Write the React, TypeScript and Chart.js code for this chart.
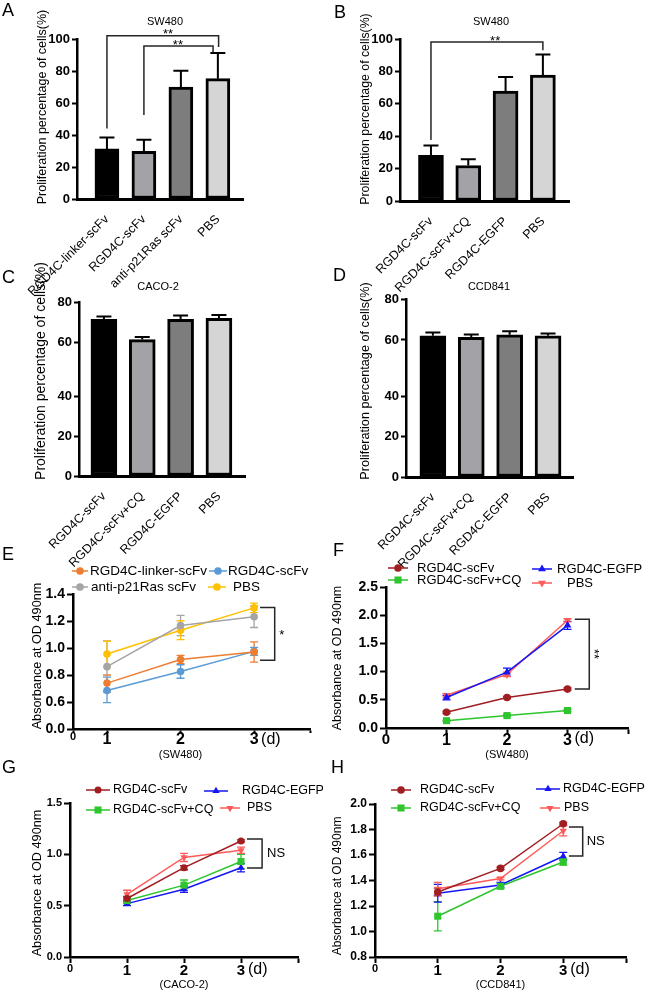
import React, { useEffect, useRef } from 'react';
import { Chart, registerables, LinearScale } from 'chart.js';

Chart.register(...registerables);

const FONT = '"Liberation Sans", Arial, Helvetica, sans-serif';
Chart.defaults.font.family = FONT;
Chart.defaults.color = '#000';

// ---------------- data ----------------
const A_CATEGORIES = ['RGD4C-linker-scFv', 'RGD4C-scFv', 'anti-p21Ras scFv', 'PBS'];
const A_VALUES = [31.3, 29.8, 70, 75.2];
const A_ERRORS = [7.2, 7.3, 10.2, 16];

const BCD_CATEGORIES = ['RGD4C-scFv', 'RGD4C-scFv+CQ', 'RGD4C-EGFP', 'PBS'];
const B_VALUES = [28.2, 21.9, 67.8, 77.7];
const B_ERRORS = [6, 3.9, 8.7, 12.8];
const C_VALUES = [71.3, 61.2, 71.3, 71.8];
const C_ERRORS = [1.5, 1.3, 1.9, 1.7];
const D_VALUES = [62.0, 61.3, 62.5, 62.0];
const D_ERRORS = [1.6, 1.3, 1.8, 1.1];

const AB_Y_TICKS = [0, 20, 40, 60, 80, 100];
const CD_Y_TICKS = [0, 20, 40, 60, 80];

const DAYS = [1, 2, 3];
const X_TICKS = [0, 1, 2, 3];

const E_LABELS = ['RGD4C-linker-scFv', 'RGD4C-scFv', 'anti-p21Ras scFv', 'PBS'];
const E_LINKER = [0.74, 0.915, 0.97];
const E_LINKER_ERR = [0.06, 0.03, 0.075];
const E_SCFV = [0.685, 0.826, 0.975];
const E_SCFV_ERR = [0.1, 0.05, 0.03];
const E_ANTI = [0.862, 1.166, 1.232];
const E_ANTI_ERR = [0.19, 0.075, 0.08];
const E_PBS = [0.955, 1.132, 1.297];
const E_PBS_ERR = [0.095, 0.07, 0.035];
const E_Y_TICKS = [0, 0.6, 0.8, 1.0, 1.2, 1.4];

const FGH_LABELS = ['RGD4C-scFv', 'RGD4C-scFv+CQ', 'RGD4C-EGFP', 'PBS'];
const F_SCFV = [0.28, 0.54, 0.69];
const F_SCFV_ERR = [0.02, 0.02, 0.02];
const F_CQ = [0.13, 0.22, 0.31];
const F_CQ_ERR = [0.01, 0.02, 0.02];
const F_EGFP = [0.54, 0.99, 1.82];
const F_EGFP_ERR = [0.04, 0.07, 0.07];
const F_PBS = [0.58, 0.95, 1.91];
const F_PBS_ERR = [0.03, 0.04, 0.03];
const F_Y_TICKS = [0, 0.5, 1.0, 1.5, 2.0, 2.5];

const G_SCFV = [0.57, 0.87, 1.13];
const G_SCFV_ERR = [0.02, 0.02, 0.01];
const G_CQ = [0.55, 0.70, 0.93];
const G_CQ_ERR = [0.03, 0.05, 0.07];
const G_EGFP = [0.52, 0.66, 0.87];
const G_EGFP_ERR = [0.02, 0.03, 0.04];
const G_PBS = [0.61, 0.97, 1.04];
const G_PBS_ERR = [0.04, 0.04, 0.03];
const G_Y_TICKS = [0, 0.5, 1.0, 1.5];

const H_SCFV = [1.31, 1.495, 1.845];
const H_SCFV_ERR = [0.03, 0.01, 0.01];
const H_CQ = [1.12, 1.355, 1.545];
const H_CQ_ERR = [0.115, 0.02, 0.025];
const H_EGFP = [1.30, 1.365, 1.59];
const H_EGFP_ERR = [0.07, 0.02, 0.03];
const H_PBS = [1.335, 1.415, 1.79];
const H_PBS_ERR = [0.05, 0.01, 0.04];
const H_Y_TICKS = [0.8, 1.0, 1.2, 1.4, 1.6, 1.8, 2.0];

// ---------------- styles ----------------
const BAR_FILLS = ['#000000', '#a2a2a7', '#7d7d7d', '#d5d5d5'];
const E_COLORS = ['#ED7D31', '#5B9BD5', '#A5A5A5', '#FFC000'];
const FGH_COLORS = ['#A11D21', '#2EC52E', '#1515F5', '#FF5B5B'];
const FGH_STYLES = ['circle', 'rect', 'triangle', 'triangle'];
const FGH_ROT = [0, 0, 0, 180];
const YT_BAR = 'Proliferation percentage of cells(%)';
const YT_LINE = 'Absorbance at OD 490nm';

// ---------------- piecewise scale ----------------
class PiecewiseScale extends LinearScale {
  static id = 'piecewise';
  _dec(value: number) {
    const bv = (this as any).options.bv as number[];
    const bf = (this as any).options.bf as number[];
    let i = 0;
    while (i < bv.length - 2 && value > bv[i + 1]) i++;
    const t = (value - bv[i]) / (bv[i + 1] - bv[i]);
    return bf[i] + t * (bf[i + 1] - bf[i]);
  }
  getPixelForValue(value: any) {
    if (value === null || value === undefined || isNaN(value)) return NaN;
    return (this as any).getPixelForDecimal(this._dec(+value));
  }
  getValueForPixel(pixel: number) {
    const bv = (this as any).options.bv as number[];
    const bf = (this as any).options.bf as number[];
    const d = (this as any).getDecimalForPixel(pixel);
    let i = 0;
    while (i < bf.length - 2 && d > bf[i + 1]) i++;
    return bv[i] + ((d - bf[i]) / (bf[i + 1] - bf[i])) * (bv[i + 1] - bv[i]);
  }
}
Chart.register(PiecewiseScale as any);

// ---------------- drawing helpers ----------------
function fnt(size: number, weight = 'normal') {
  return `${weight} ${size}px ${FONT}`;
}

function drawMarker(ctx: CanvasRenderingContext2D, style: string, rot: number, x: number, y: number, r: number, color: string) {
  ctx.save();
  ctx.fillStyle = color;
  ctx.beginPath();
  if (style === 'rect') {
    const s = r * Math.SQRT1_2;
    ctx.rect(x - s, y - s, 2 * s, 2 * s);
  } else if (style === 'triangle') {
    let a = (rot * Math.PI) / 180;
    for (let k = 0; k < 3; k++) {
      const px = x + Math.sin(a) * r;
      const py = y - Math.cos(a) * r;
      if (k === 0) ctx.moveTo(px, py);
      else ctx.lineTo(px, py);
      a += (2 * Math.PI) / 3;
    }
    ctx.closePath();
  } else {
    ctx.arc(x, y, r, 0, Math.PI * 2);
  }
  ctx.fill();
  ctx.restore();
}

function drawText(ctx: CanvasRenderingContext2D, t: any, x: number, y: number) {
  ctx.save();
  ctx.translate(x, y);
  if (t.rot) ctx.rotate((t.rot * Math.PI) / 180);
  ctx.font = fnt(t.size, t.weight || 'normal');
  ctx.fillStyle = t.color || '#000';
  ctx.textAlign = t.align || 'center';
  ctx.textBaseline = 'middle';
  ctx.fillText(t.t, 0, 0);
  ctx.restore();
}

function makeDeco(deco: any) {
  return {
    id: 'deco',
    beforeDatasetsDraw(chart: any) {
      const ctx = chart.ctx;
      const xs = chart.scales.x;
      const ys = chart.scales.y;
      chart.data.datasets.forEach((ds: any) => {
        if (!ds.errs) return;
        ctx.save();
        ctx.strokeStyle = ds.errColor || ds.borderColor;
        ctx.lineWidth = ds.errWidth || 1.2;
        ds.data.forEach((p: any, i: number) => {
          const e = ds.errs[i];
          if (!e) return;
          const x = xs.getPixelForValue(p.x);
          const yt = ys.getPixelForValue(p.y + e);
          const yb = ds.errMode === 'up' ? ys.getPixelForValue(p.y) : ys.getPixelForValue(p.y - e);
          ctx.beginPath();
          ctx.moveTo(x, yb);
          ctx.lineTo(x, yt);
          ctx.moveTo(x - ds.capW, yt);
          ctx.lineTo(x + ds.capW, yt);
          if (ds.errMode !== 'up') {
            ctx.moveTo(x - ds.capW, yb);
            ctx.lineTo(x + ds.capW, yb);
          }
          ctx.stroke();
        });
        ctx.restore();
      });
    },
    afterDraw(chart: any) {
      const ctx = chart.ctx;
      const xs = chart.scales.x;
      const ys = chart.scales.y;
      (deco.brackets || []).forEach((b: any) => {
        ctx.save();
        ctx.strokeStyle = '#262626';
        ctx.lineWidth = 1.5;
        ctx.beginPath();
        b.pts.forEach((p: number[], i: number) => {
          const px = xs.getPixelForValue(p[0]);
          const py = ys.getPixelForValue(p[1]);
          if (i === 0) ctx.moveTo(px, py);
          else ctx.lineTo(px, py);
        });
        ctx.stroke();
        ctx.restore();
        if (b.label) {
          const px = xs.getPixelForValue(b.lx) + (b.dx || 0);
          const py = ys.getPixelForValue(b.ly) + (b.dy || 0);
          drawText(ctx, { t: b.label, size: b.size || 13, rot: b.rot, align: b.align }, px, py);
        }
      });
      (deco.texts || []).forEach((t: any) => {
        const x = t.xv !== undefined ? xs.getPixelForValue(t.xv) + (t.x || 0) : t.x;
        drawText(ctx, t, x, t.y);
      });
      const lg = deco.legend;
      if (lg) {
        lg.items.forEach((it: any, i: number) => {
          const ds = chart.data.datasets[i];
          ctx.save();
          ctx.strokeStyle = ds.borderColor;
          ctx.lineWidth = 1.5;
          ctx.beginPath();
          ctx.moveTo(it.cx - it.hl, it.y);
          ctx.lineTo(it.cx + it.hl, it.y);
          ctx.stroke();
          ctx.restore();
          drawMarker(ctx, ds.pointStyle, ds.pointRotation || 0, it.cx, it.y, ds.pointRadius, ds.borderColor);
          drawText(ctx, { t: ds.label, size: lg.size, align: 'left' }, it.tx, it.y);
        });
      }
    },
  };
}

// ---------------- chart builders ----------------
function barChart(p: any) {
  const { area, W, H } = p;
  return {
    type: 'bar',
    data: {
      datasets: [
        {
          data: p.cats.map((_: string, i: number) => ({ x: i + 1, y: p.values[i] })),
          backgroundColor: BAR_FILLS,
          borderColor: '#000',
          borderWidth: 3,
          borderSkipped: false,
          barThickness: p.barW,
          errs: p.errors,
          errMode: 'up',
          errColor: '#000',
          errWidth: 2,
          capW: 7.5,
        },
      ],
    },
    options: {
      responsive: false,
      animation: false,
      events: [],
      layout: { padding: { left: 0, top: area.t, right: W - area.r, bottom: 0 } },
      plugins: { legend: { display: false }, tooltip: { enabled: false } },
      scales: {
        x: {
          type: 'piecewise',
          bv: [p.xmin, p.xmax],
          bf: [0, 1],
          min: p.xmin,
          max: p.xmax,
          offset: false,
          afterBuildTicks: (s: any) => {
            s.ticks = p.cats.map((_: string, i: number) => ({ value: i + 1 }));
          },
          afterFit: (s: any) => {
            s.height = H - area.b;
          },
          grid: { display: false, offset: false },
          border: { display: true, color: '#000', width: 3 },
          ticks: {
            autoSkip: false,
            minRotation: 45,
            maxRotation: 45,
            padding: 5,
            color: '#000',
            font: { size: 12.5 },
            callback: (v: number) => p.cats[Math.round(v) - 1],
          },
        },
        y: {
          type: 'piecewise',
          bv: p.ybv,
          bf: p.ybf,
          min: p.ybv[0],
          max: p.ybv[p.ybv.length - 1],
          afterBuildTicks: (s: any) => {
            s.ticks = p.yticks.map((v: number) => ({ value: v }));
          },
          afterFit: (s: any) => {
            s.width = area.l;
          },
          grid: { display: true, drawOnChartArea: false, drawTicks: true, tickLength: 5, tickWidth: 2, tickColor: '#000' },
          border: { display: true, color: '#000', width: 2.5 },
          ticks: { autoSkip: false, padding: 2, color: '#000', font: { size: 13, weight: 'bold' }, callback: (v: number) => String(v) },
        },
      },
    },
    plugins: [makeDeco(p.deco)],
  };
}

function lineChart(p: any) {
  const { area, W, H } = p;
  const xEnd = p.xbv[p.xbv.length - 1];
  return {
    type: 'line',
    data: {
      datasets: p.series.map((s: any) => ({
        label: s.label,
        data: DAYS.map((d, i) => ({ x: d, y: s.values[i] })),
        borderColor: s.color,
        backgroundColor: s.color,
        pointBackgroundColor: s.color,
        pointBorderColor: s.color,
        pointBorderWidth: 0,
        borderWidth: 1.5,
        tension: 0,
        fill: false,
        pointStyle: s.style,
        pointRotation: s.rot || 0,
        pointRadius: s.radius,
        errs: s.errs,
        errMode: 'both',
        errWidth: 1.3,
        capW: 4,
      })),
    },
    options: {
      responsive: false,
      animation: false,
      events: [],
      layout: { padding: { left: 0, top: area.t, right: W - area.r, bottom: 0 } },
      plugins: { legend: { display: false }, tooltip: { enabled: false } },
      scales: {
        x: {
          type: 'piecewise',
          bv: p.xbv,
          bf: p.xbf,
          min: p.xbv[0],
          max: xEnd,
          afterBuildTicks: (s: any) => {
            s.ticks = [...X_TICKS, xEnd].map((v: number) => ({ value: v }));
          },
          afterFit: (s: any) => {
            s.height = H - area.b;
          },
          grid: { display: true, drawOnChartArea: false, drawTicks: true, tickLength: p.xtickLen, tickWidth: 2, tickColor: '#000' },
          border: { display: true, color: '#000', width: 2.5 },
          ticks: {
            autoSkip: false,
            maxRotation: 0,
            minRotation: 0,
            padding: p.xpad,
            color: '#000',
            font: (c: any) =>
              c.tick && c.tick.value === 0
                ? { size: p.zeroSize, weight: 'bold' }
                : { size: p.xtickSize, weight: 'bold' },
            callback: (v: number) => (v === xEnd ? '' : String(v)),
          },
        },
        y: {
          type: 'piecewise',
          bv: p.ybv,
          bf: p.ybf,
          min: p.ybv[0],
          max: p.ybv[p.ybv.length - 1],
          afterBuildTicks: (s: any) => {
            s.ticks = p.yticks.map((v: number) => ({ value: v }));
          },
          afterFit: (s: any) => {
            s.width = area.l;
          },
          grid: { display: true, drawOnChartArea: false, drawTicks: true, tickLength: 6, tickWidth: 2, tickColor: '#000' },
          border: { display: true, color: '#000', width: 2.5 },
          ticks: {
            autoSkip: false,
            padding: 2,
            color: '#000',
            font: { size: p.ytickSize, weight: 'bold' },
            callback: (v: number) => v.toFixed(1),
          },
        },
      },
    },
    plugins: [makeDeco(p.deco)],
  };
}

function fghSeries(vals: number[][], errs: number[][], radii: number[]) {
  return FGH_LABELS.map((label, i) => ({
    label,
    color: FGH_COLORS[i],
    style: FGH_STYLES[i],
    rot: FGH_ROT[i],
    radius: radii[i],
    values: vals[i],
    errs: errs[i],
  }));
}

// ---------------- panels ----------------
const PANELS = [
  {
    key: 'A', left: 0, top: 0, w: 323, h: 300,
    build: () =>
      barChart({
        W: 323, H: 300, area: { l: 77, t: 39, r: 243, b: 199 },
        cats: A_CATEGORIES, values: A_VALUES, errors: A_ERRORS, barW: 24,
        xmin: 0.19, xmax: 4.68, ybv: [0, 100], ybf: [0, 1], yticks: AB_Y_TICKS,
        deco: {
          brackets: [
            { pts: [[1, 44], [1, 102], [4.02, 102], [4.02, 95]], label: '**', lx: 2.65, ly: 102, dy: -1 },
            { pts: [[2, 52.5], [2, 95.6], [3.87, 95.6], [3.87, 91.5]], label: '**', lx: 2.92, ly: 95.6, dy: -1 },
          ],
          texts: [
            { t: 'SW480', x: 165, y: 22, size: 11 },
            { t: YT_BAR, x: 43, y: 107, size: 12.5, rot: -90 },
          ],
        },
      }),
  },
  {
    key: 'B', left: 323, top: 0, w: 323, h: 300,
    build: () =>
      barChart({
        W: 323, H: 300, area: { l: 77, t: 39, r: 246, b: 201 },
        cats: BCD_CATEGORIES, values: B_VALUES, errors: B_ERRORS, barW: 25,
        xmin: 0.17, xmax: 4.7, ybv: [0, 100], ybf: [0, 1], yticks: AB_Y_TICKS,
        deco: {
          brackets: [{ pts: [[1, 37.6], [1, 98.1], [4, 98.1], [4, 93]], label: '**', lx: 2.72, ly: 98.1, dy: -1 }],
          texts: [
            { t: 'SW480', x: 168, y: 22, size: 11 },
            { t: YT_BAR, x: 43, y: 109, size: 12.3, rot: -90 },
          ],
        },
      }),
  },
  {
    key: 'C', left: 0, top: 250, w: 323, h: 320,
    build: () =>
      barChart({
        W: 323, H: 320, area: { l: 79, t: 52, r: 245, b: 226 },
        cats: BCD_CATEGORIES, values: C_VALUES, errors: C_ERRORS, barW: 26,
        xmin: 0.35, xmax: 4.68, ybv: [0, 40, 60, 80], ybf: [0, 0.455, 0.77, 1], yticks: CD_Y_TICKS,
        deco: {
          texts: [
            { t: 'CACO-2', x: 158, y: 37, size: 11 },
            { t: YT_BAR, x: 41, y: 121, size: 14, rot: -90 },
          ],
        },
      }),
  },
  {
    key: 'D', left: 323, top: 250, w: 323, h: 320,
    build: () =>
      barChart({
        W: 323, H: 320, area: { l: 83, t: 49, r: 250, b: 227 },
        cats: BCD_CATEGORIES, values: D_VALUES, errors: D_ERRORS, barW: 26,
        xmin: 0.3, xmax: 4.65, ybv: [0, 40, 60, 80], ybf: [0, 0.455, 0.77, 1], yticks: CD_Y_TICKS,
        deco: {
          texts: [
            { t: 'CCD841', x: 166, y: 37, size: 11 },
            { t: YT_BAR, x: 42, y: 131, size: 12.7, rot: -90 },
          ],
        },
      }),
  },
  {
    key: 'E', left: 0, top: 500, w: 323, h: 265,
    build: () =>
      lineChart({
        W: 323, H: 265, area: { l: 73, t: 94, r: 310, b: 229 },
        xbv: [0, 1, 3.76], xbf: [0, 0.1435, 1],
        ybv: [0, 0.6, 1.4], ybf: [0, 0.2, 1], yticks: E_Y_TICKS,
        ytickSize: 14, xtickSize: 16, zeroSize: 11, xpad: -3, xtickLen: 4,
        series: E_LABELS.map((label, i) => ({
          label,
          color: E_COLORS[i],
          style: 'circle',
          radius: 3.8,
          values: [E_LINKER, E_SCFV, E_ANTI, E_PBS][i],
          errs: [E_LINKER_ERR, E_SCFV_ERR, E_ANTI_ERR, E_PBS_ERR][i],
        })),
        deco: {
          legend: {
            size: 13.5,
            items: [
              { cx: 80, tx: 90, y: 71, hl: 8 },
              { cx: 218, tx: 228, y: 71, hl: 9 },
              { cx: 80, tx: 91, y: 87, hl: 8 },
              { cx: 217, tx: 233, y: 87, hl: 9 },
            ],
          },
          brackets: [
            { pts: [[3.08, 1.3], [3.28, 1.3], [3.28, 0.91], [3.08, 0.91]], label: '*', lx: 3.28, ly: 1.105, dx: 7, dy: 2 },
          ],
          texts: [
            { t: YT_LINE, x: 37, y: 156, size: 12.7, rot: -90 },
            { t: '(d)', xv: 3, x: 7, y: 240, size: 16, align: 'left' },
            { t: '(SW480)', xv: 2, x: 0, y: 255, size: 11 },
          ],
        },
      }),
  },
  {
    key: 'F', left: 323, top: 500, w: 323, h: 265,
    build: () =>
      lineChart({
        W: 323, H: 265, area: { l: 63, t: 87, r: 305, b: 228 },
        xbv: [0, 4], xbf: [0, 1],
        ybv: [0, 2.5], ybf: [0, 1], yticks: F_Y_TICKS,
        ytickSize: 14, xtickSize: 16, zeroSize: 15, xpad: -3, xtickLen: 6,
        series: fghSeries([F_SCFV, F_CQ, F_EGFP, F_PBS], [F_SCFV_ERR, F_CQ_ERR, F_EGFP_ERR, F_PBS_ERR], [3.8, 5, 4.5, 4.5]),
        deco: {
          legend: {
            size: 13,
            items: [
              { cx: 75, tx: 94, y: 68, hl: 10 },
              { cx: 75, tx: 94, y: 80, hl: 10 },
              { cx: 219, tx: 234, y: 69, hl: 10 },
              { cx: 219, tx: 244, y: 83, hl: 10 },
            ],
          },
          brackets: [
            { pts: [[3.12, 1.93], [3.36, 1.93], [3.36, 0.69], [3.12, 0.69]], label: '**', lx: 3.36, ly: 1.31, dx: 4, rot: 90 },
          ],
          texts: [
            { t: YT_LINE, x: 15, y: 158, size: 12.5, rot: -90 },
            { t: '(d)', xv: 3, x: 7, y: 239, size: 16, align: 'left' },
            { t: '(SW480)', xv: 2, x: 0, y: 255, size: 11 },
          ],
        },
      }),
  },
  {
    key: 'G', left: 0, top: 740, w: 323, h: 252,
    build: () =>
      lineChart({
        W: 323, H: 252, area: { l: 70, t: 63, r: 298, b: 217 },
        xbv: [0, 4], xbf: [0, 1],
        ybv: [0, 1.5], ybf: [0, 1], yticks: G_Y_TICKS,
        ytickSize: 11, xtickSize: 15, zeroSize: 11, xpad: -1, xtickLen: 6,
        series: fghSeries([G_SCFV, G_CQ, G_EGFP, G_PBS], [G_SCFV_ERR, G_CQ_ERR, G_EGFP_ERR, G_PBS_ERR], [3.5, 5, 4.2, 4.2]),
        deco: {
          legend: {
            size: 12.5,
            items: [
              { cx: 98, tx: 113, y: 50, hl: 12 },
              { cx: 98, tx: 113, y: 70, hl: 12 },
              { cx: 216, tx: 242, y: 51, hl: 12 },
              { cx: 230, tx: 247, y: 68, hl: 10 },
            ],
          },
          brackets: [
            { pts: [[3.105, 1.149], [3.37, 1.149], [3.37, 0.867], [3.105, 0.867]], label: 'NS', lx: 3.37, ly: 1.008, dx: 5, align: 'left' },
          ],
          texts: [
            { t: YT_LINE, x: 37, y: 143, size: 12.7, rot: -90 },
            { t: '(d)', xv: 3, x: 7, y: 230, size: 16, align: 'left' },
            { t: '(CACO-2)', xv: 2, x: 0, y: 245, size: 11 },
          ],
        },
      }),
  },
  {
    key: 'H', left: 323, top: 740, w: 323, h: 252,
    build: () =>
      lineChart({
        W: 323, H: 252, area: { l: 52, t: 64, r: 303, b: 217 },
        xbv: [0, 4], xbf: [0, 1],
        ybv: [0.8, 2.0], ybf: [0, 1], yticks: H_Y_TICKS,
        ytickSize: 12, xtickSize: 15, zeroSize: 11, xpad: -1, xtickLen: 6,
        series: fghSeries([H_SCFV, H_CQ, H_EGFP, H_PBS], [H_SCFV_ERR, H_CQ_ERR, H_EGFP_ERR, H_PBS_ERR], [3.8, 5, 4.2, 4.2]),
        deco: {
          legend: {
            size: 12.5,
            items: [
              { cx: 78, tx: 97, y: 50, hl: 10 },
              { cx: 78, tx: 97, y: 68, hl: 10 },
              { cx: 225, tx: 240, y: 49, hl: 12 },
              { cx: 227, tx: 241, y: 68, hl: 10 },
            ],
          },
          brackets: [
            { pts: [[3.09, 1.82], [3.31, 1.82], [3.31, 1.592], [3.09, 1.592]], label: 'NS', lx: 3.31, ly: 1.706, dx: 4, align: 'left' },
          ],
          texts: [
            { t: YT_LINE, x: 15, y: 146, size: 12, rot: -90 },
            { t: '(d)', xv: 3, x: 7, y: 230, size: 16, align: 'left' },
            { t: '(CCD841)', xv: 2, x: 0, y: 245, size: 11 },
          ],
        },
      }),
  },
];

const LETTERS = [
  { t: 'A', x: 2, y: 1 },
  { t: 'B', x: 334, y: 3 },
  { t: 'C', x: 2, y: 268 },
  { t: 'D', x: 333, y: 266 },
  { t: 'E', x: 2, y: 545 },
  { t: 'F', x: 333, y: 541 },
  { t: 'G', x: 2, y: 758 },
  { t: 'H', x: 331, y: 758 },
];

function ChartPanel({ panel }: { panel: any }) {
  const ref = useRef<HTMLCanvasElement>(null);
  useEffect(() => {
    const chart = new Chart(ref.current as HTMLCanvasElement, panel.build() as any);
    return () => chart.destroy();
  }, []);
  return (
    <canvas
      ref={ref}
      width={panel.w}
      height={panel.h}
      style={{ position: 'absolute', left: panel.left, top: panel.top, width: panel.w, height: panel.h }}
    />
  );
}

export default function App() {
  return (
    <div
      style={{
        position: 'absolute',
        left: 0,
        top: 0,
        width: 646,
        height: 992,
        background: '#fff',
        overflow: 'hidden',
        fontFamily: FONT,
      }}
    >
      {PANELS.map((p) => (
        <ChartPanel key={p.key} panel={p} />
      ))}
      {LETTERS.map((l) => (
        <div
          key={l.t}
          style={{ position: 'absolute', left: l.x, top: l.y, fontSize: 18, lineHeight: '18px', color: '#000' }}
        >
          {l.t}
        </div>
      ))}
    </div>
  );
}
